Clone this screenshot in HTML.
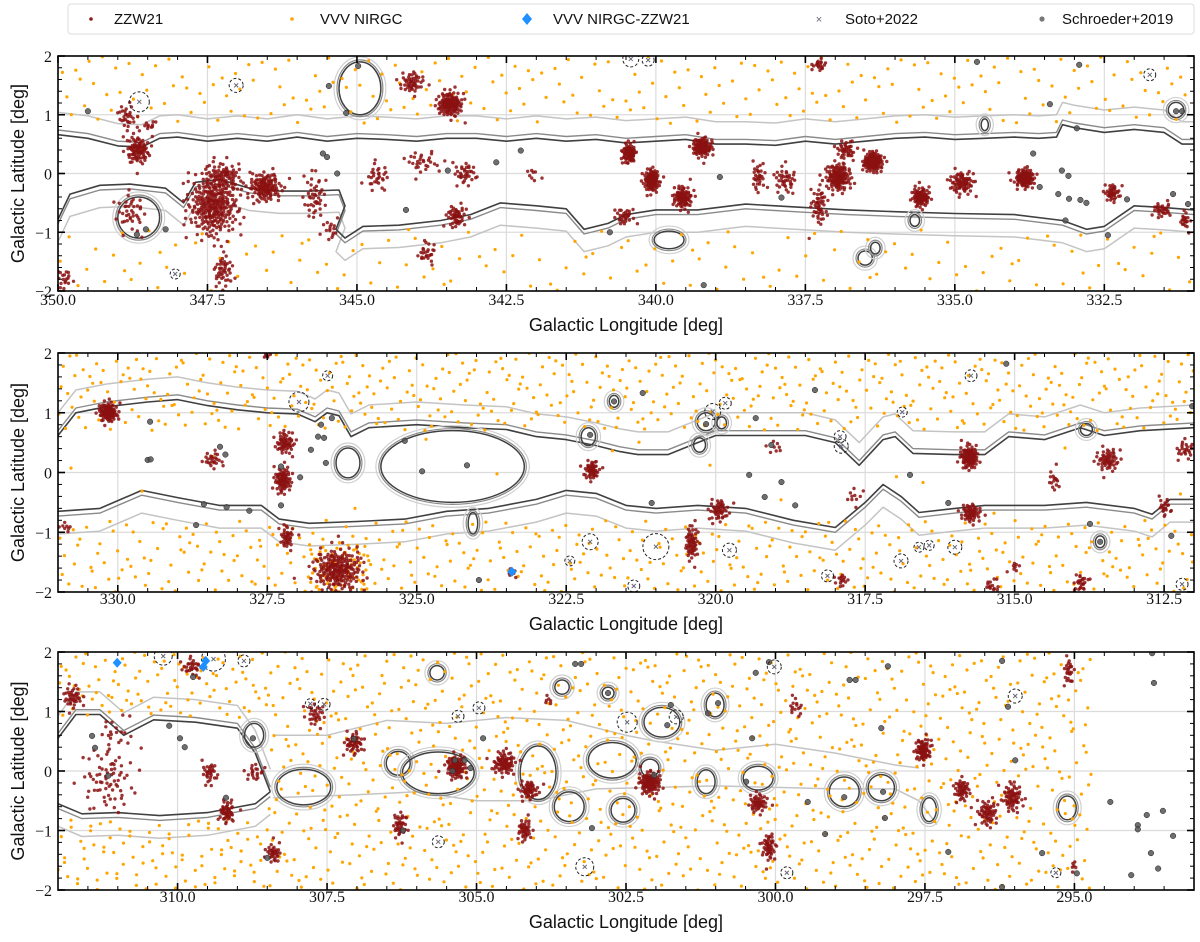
<!DOCTYPE html>
<html><head><meta charset="utf-8">
<style>
html,body{margin:0;padding:0;background:#fff;}
svg{display:block;}
.tick{font-family:"Liberation Serif",serif;font-size:16px;fill:#111;}
.ttl{font-family:"Liberation Sans",sans-serif;font-size:18px;fill:#111;}
.leg{font-family:"Liberation Sans",sans-serif;font-size:15px;fill:#111;}
</style></head>
<body>
<svg id="fig" width="1200" height="942" viewBox="0 0 1200 942" xmlns="http://www.w3.org/2000/svg">
<g>
<rect x="68" y="4" width="1126" height="30" rx="3" fill="#fff" stroke="#ddd"/>
<g><circle cx="91" cy="19" r="1.8" fill="#8b1a1a"/><text class="leg" x="114" y="24">ZZW21</text></g>
<g><circle cx="292" cy="19" r="1.8" fill="#ffa500"/><text class="leg" x="320" y="24">VVV NIRGC</text></g>
<g><path d="M527,13 L532,19 L527,25 L522,19Z" fill="#1e90ff"/><text class="leg" x="553" y="24">VVV NIRGC-ZZW21</text></g>
<g><text x="819" y="23" text-anchor="middle" font-family="Liberation Sans,sans-serif" font-size="11" fill="#667">×</text><text class="leg" x="845" y="24">Soto+2022</text></g>
<g><circle cx="1042" cy="19" r="2.6" fill="#555" fill-opacity="0.8"/><text class="leg" x="1062" y="24">Schroeder+2019</text></g>
</g>
</svg>
<script>
// ---------- data ----------
const panelLonMax = [350, 331, 312];
const panelLonMin = [331, 312, 293];
const xTickLabels = [
  ["350.0","347.5","345.0","342.5","340.0","337.5","335.0","332.5"],
  ["330.0","327.5","325.0","322.5","320.0","317.5","315.0","312.5"],
  ["310.0","307.5","305.0","302.5","300.0","297.5","295.0"]
];
const yTickLabels = ["2","1","0","\u22122","\u22121"];
const yTickValues = [2,1,0,-2,-1];

// ZZW21 clusters: [lon, lat, count, sigmaLon, sigmaLat]
const zzwP1 = [[348.85,0.96,30,.1,.15],[348.66,0.4,90,.12,.15],[348.46,0.82,10,.08,.04],[348.78,-0.67,40,.15,.22],
 [347.4,-0.55,300,.26,.32],[347.24,-0.04,80,.2,.15],[346.54,-0.23,130,.17,.15],[345.7,-0.4,45,.12,.28],[347.24,-1.65,45,.1,.18],
 [345.43,-0.95,15,.08,.12],[344.66,-0.06,30,.12,.15],[344.08,1.55,50,.12,.12],[343.9,0.2,30,.2,.12],[343.44,1.18,130,.13,.13],
 [343.19,0.0,35,.12,.12],[343.34,-0.73,50,.1,.12],[343.83,-1.35,25,.1,.12],[349.9,-1.8,20,.1,.12],[342.05,0.0,8,.08,.08],
 [340.45,0.34,90,.07,.1],[339.23,0.45,110,.1,.1],[340.07,-0.12,110,.08,.12],[339.55,-0.41,90,.1,.12],[340.52,-0.73,30,.1,.1],
 [337.27,1.85,20,.08,.06],[338.29,-0.06,30,.07,.15],[337.84,-0.11,40,.12,.15],[336.95,-0.06,140,.13,.15],[336.82,0.4,40,.1,.1],
 [336.37,0.2,140,.1,.1],[337.27,-0.55,50,.08,.22],[335.57,-0.4,90,.09,.1],[334.88,-0.16,80,.13,.12],[333.83,-0.08,110,.1,.1],
 [332.37,-0.33,40,.08,.1],[331.53,-0.62,30,.1,.08],[331.15,-0.79,20,.05,.1]];
const zzwP2 = [[330.16,1.01,100,.1,.1],[327.2,0.49,60,.1,.12],[327.24,-0.13,80,.09,.13],[327.17,-1.08,40,.07,.12],[328.41,0.21,25,.1,.1],
 [326.32,-1.63,220,.25,.22],[322.07,0.04,50,.08,.1],[323.41,-1.68,8,.05,.05],[330.88,-0.92,8,.08,.05],[327.5,1.95,6,.05,.03],
 [319.94,-0.63,50,.1,.12],[320.4,-1.18,60,.07,.18],[315.76,0.26,110,.09,.12],[315.73,-0.68,60,.1,.1],[313.44,0.21,60,.12,.12],
 [314.34,-0.13,15,.06,.12],[313.89,-1.85,25,.08,.1],[315.38,-1.9,15,.08,.08],[317.89,-1.8,15,.07,.08],[312.15,0.38,25,.1,.1],
 [312.48,-0.58,20,.06,.12],[317.7,-0.41,10,.1,.1],[318.99,0.43,8,.1,.08],[315.0,-1.58,8,.06,.06]];
const zzwP3 = [[311.75,1.24,40,.1,.12],[311.16,-0.15,70,.28,.35],[311.04,0.64,20,.2,.2],[309.76,1.75,30,.1,.1],[309.46,-0.03,30,.08,.12],
 [308.72,-0.03,20,.1,.1],[309.17,-0.69,50,.08,.12],[307.7,0.94,30,.1,.12],[307.05,0.47,50,.1,.12],[308.4,-1.38,35,.08,.1],
 [306.28,-0.91,40,.07,.14],[305.34,0.07,100,.1,.12],[304.54,0.13,80,.12,.12],[304.12,-0.32,50,.1,.1],[304.19,-0.99,40,.07,.12],
 [303.8,1.19,6,.05,.05],[302.1,-0.2,110,.11,.12],[300.29,-0.54,50,.1,.1],[300.11,-1.28,50,.07,.15],[299.66,1.08,15,.08,.1],
 [297.53,0.35,75,.08,.12],[296.88,-0.32,50,.08,.12],[296.45,-0.71,60,.1,.14],[296.04,-0.44,70,.1,.15],[295.09,1.67,25,.05,.15],
 [295.02,-1.6,6,.04,.06]];

// VVV NIRGC field regions: [lonA, lonB, latA, latB, count]
const vvvP1 = [[350,331,0.85,2,230],[350,331,-2,-0.95,140]];
const vvvP2 = [[331,312,0.7,2,500],[331,312,-2,-0.8,400],[331,312,-0.7,0.6,15],[326.8,325.8,-2,-1.2,60]];
const vvvP3 = [[312,308.5,0.9,2,90],[312,308.5,-2,-0.8,90],[308.5,294.7,-2,2,950]];

// Schroeder+2019 points (lon, lat)
const schP1 = [[349.5,1.06],[348.68,-1.04],[348.53,-0.95],[348.2,-0.95],[345.47,1.49],[345.18,1.03],[344.98,1.83],[345.57,0.34],[345.5,0.28],[345.33,0.0],
 [344.18,-0.62],[343.48,0.05],[342.67,0.19],[342.26,0.39],[340.77,-1.0],[337.9,-0.41],[338.93,-0.06],[334.63,1.9],[333.41,1.18],[332.96,0.77],
 [333.69,0.34],[333.21,0.05],[333.1,-0.04],[333.58,-0.23],[333.27,-0.35],[333.09,-0.43],[332.9,-0.45],[332.8,-0.5],[332.12,-0.44],[331.35,-0.35],
 [331.1,-0.52],[331.3,1.06],[331.2,1.06],[332.92,1.85],[339.2,-1.9],[333.15,-0.8],[332.44,-1.05]];
const schP2 = [[329.46,0.85],[329.5,0.21],[329.45,0.22],[328.29,0.43],[328.2,0.3],[326.65,0.6],[326.55,0.58],[326.77,0.38],[326.52,0.16],[326.42,0.91],
 [326.6,0.8],[325.2,0.53],[324.91,0.02],[324.16,0.12],[328.56,-0.53],[328.18,-0.58],[327.8,-0.64],[327.27,-0.55],[327.27,0.1],[326.95,-0.08],
 [328.69,-0.88],[323.96,-1.8],[322.1,0.63],[321.22,1.33],[321.7,1.19],[320.16,0.81],[319.33,0.91],[319.07,0.46],[319.44,-0.04],[318.9,-0.16],
 [319.18,-0.41],[321.07,-0.51],[318.67,-0.55],[316.75,-0.04],[316.11,-0.51],[315.14,1.82],[313.74,-0.86],[313.57,-1.16],[312.38,-1.06],[312.03,1.11],[318.34,1.38]];
const schP3 = [[311.43,0.59],[311.38,0.39],[311.16,-0.08],[310.14,0.76],[309.96,0.55],[309.88,0.4],[309.19,-0.45],[308.74,0.55],[309.74,1.58],[307.05,0.54],
 [304.89,0.55],[305.36,0.18],[305.2,0.18],[305.1,0.05],[305.4,0.0],[303.07,-0.96],[303.35,1.8],[303.25,1.8],[306.23,-1.0],[308.5,-1.46],
 [302.8,1.31],[301.75,1.11],[301.81,0.77],[301.13,0.97],[300.96,1.14],[302.03,-0.07],[300.49,-0.18],[300.39,0.55],[300.33,1.65],[300.11,1.83],
 [298.76,1.53],[298.66,1.53],[298.12,1.76],[298.23,0.72],[298.85,-0.44],[298.2,-0.35],[299.46,-0.52],[298.17,-0.79],[299.17,-1.06],[297.11,-1.36],
 [296.21,1.85],[296.11,1.08],[295.99,0.18],[295.54,-1.38],[294.96,-1.72],[296.21,-1.95],[293.67,1.48],[293.7,1.98],[294.4,-0.52],[293.52,-0.67],
 [293.79,-0.74],[293.94,-0.91],[293.94,-0.98],[293.35,-1.09],[293.72,-1.38],[294.05,-1.75],[293.6,-1.64]];

// Soto+2022: [lon, lat, circleRadiusPx]
const sotoP1 = [[348.64,1.22,10],[347.02,1.5,7],[348.04,-1.71,5],[340.42,1.95,8],[340.13,1.93,6],[331.74,1.68,6]];
const sotoP2 = [[326.97,1.18,10],[326.49,1.62,5],[322.1,-1.16,8],[322.44,-1.48,5],[321.0,-1.24,13],[320.05,1.02,8],[319.84,1.16,6],[319.77,-1.3,7],
 [317.92,0.6,6],[317.9,0.44,7],[316.88,1.01,5],[315.73,1.62,6],[316.6,-1.25,5],[316.43,-1.22,5],[316.0,-1.25,7],[316.9,-1.48,7],[318.13,-1.73,6],[321.37,-1.9,6],[312.2,-1.87,6]];
const sotoP3 = [[310.24,1.93,9],[309.4,1.88,12],[308.89,1.85,6],[307.78,1.13,5],[307.55,1.12,6],[305.31,0.92,6],[304.96,1.06,6],[305.64,-1.19,6],[303.19,-1.61,9],
 [302.48,0.82,10],[301.66,0.91,7],[300.02,1.75,7],[299.81,-1.71,6],[295.99,1.26,7],[295.31,-1.71,5]];

// VVV NIRGC-ZZW21 matches
const matchP2 = [[323.41,-1.66]];
const matchP3 = [[311.01,1.82],[309.57,1.75],[309.53,1.85]];

// Extinction contours
const upperP1 = [[350,0.66],[349.5,0.6],[349,0.47],[348.6,0.45],[348.3,0.6],[348,0.62],[347.5,0.55],[347,0.6],[346.5,0.55],[346,0.62],[345.5,0.55],[345,0.6],[344.5,0.58],[344,0.55],[343.5,0.6],[343,0.6],[342.5,0.55],[342,0.6],[341.5,0.55],[341,0.58],[340.5,0.52],[340,0.55],[339.5,0.58],[339,0.5],[338.5,0.5],[338,0.48],[337.5,0.55],[337,0.5],[336.5,0.55],[336,0.6],[335.5,0.62],[335,0.58],[334.5,0.6],[334,0.62],[333.6,0.6],[333.3,0.62],[333.2,0.83],[333,0.78],[332.5,0.7],[332,0.75],[331.5,0.7],[331.2,0.5],[331,0.5]];
const lowerP1 = [[350,-0.78],[349.8,-0.35],[349.3,-0.2],[348.8,-0.18],[348.2,-0.25],[347.9,-0.5],[347.7,-0.15],[347.3,-0.1],[346.8,-0.25],[346.3,-0.3],[345.8,-0.3],[345.3,-0.28],[345.2,-0.55],[345.35,-0.95],[345.2,-1.1],[344.9,-0.9],[344.3,-0.88],[343.6,-0.8],[343.1,-0.7],[342.6,-0.5],[342,-0.55],[341.5,-0.6],[341.2,-0.95],[340.8,-0.85],[340.5,-0.7],[340,-0.62],[339.3,-0.62],[338.5,-0.52],[337.5,-0.58],[336.8,-0.62],[336,-0.65],[335,-0.68],[334,-0.7],[333.2,-0.8],[332.8,-0.95],[332.5,-0.9],[332,-0.55],[331.5,-0.58],[331,-0.62]];
const upperP2 = [[331,0.62],[330.7,1.0],[330.2,1.1],[329.5,1.18],[329,1.22],[328.5,1.12],[328,1.05],[327.5,1.0],[327,0.98],[326.7,0.85],[326.5,1.0],[326.3,0.95],[326.1,0.6],[325.8,0.75],[325,0.8],[324.2,0.75],[323.5,0.72],[323,0.6],[322.5,0.55],[322,0.45],[321.6,0.35],[321.3,0.3],[320.8,0.3],[320.3,0.5],[320,0.62],[319.3,0.62],[318.5,0.62],[318,0.5],[317.6,0.12],[317.2,0.55],[317,0.6],[316.7,0.32],[316,0.3],[315.5,0.3],[315.1,0.6],[314.5,0.55],[313.9,0.75],[313.5,0.62],[312.9,0.7],[312,0.75]];
const lowerP2 = [[331,-0.65],[330.3,-0.6],[329.6,-0.3],[329,-0.42],[328.3,-0.55],[327.6,-0.55],[327.3,-0.78],[326.8,-0.85],[326,-0.82],[325.2,-0.78],[324.5,-0.65],[323.8,-0.6],[323,-0.45],[322.5,-0.3],[322,-0.35],[321.5,-0.55],[321,-0.6],[320.3,-0.55],[319.5,-0.6],[318.7,-0.8],[318,-0.92],[317.5,-0.5],[317.2,-0.2],[316.9,-0.4],[316.6,-0.67],[316,-0.6],[315.5,-0.55],[314.5,-0.55],[313.8,-0.5],[313,-0.6],[312.7,-0.7],[312.4,-0.45],[312,-0.45]];
const upperP3 = [[312,0.55],[311.7,0.95],[311.3,0.95],[310.9,0.6],[310.4,0.86],[309.7,0.82],[309,0.72],[308.7,0.3],[308.45,-0.35]];
const lowerP3 = [[312,-0.55],[311.6,-0.72],[311,-0.7],[310.3,-0.75],[309.5,-0.7],[308.7,-0.55],[308.45,-0.35]];
const lightUpperP3 = [[308.4,0.6],[307.5,0.6],[306.5,0.85],[305.5,0.8],[304.5,0.9],[303.5,0.85],[302.5,0.6],[302,0.5],[301,0.35],[300,0.45],[299,0.3],[298,0.1],[297.6,0.05]];
const lightLowerP3 = [[308.4,-0.45],[307,-0.4],[306,-0.35],[305,-0.5],[304,-0.5],[303,-0.3],[301,-0.25],[299,-0.3],[298,-0.3],[297.6,-0.5],[297.3,-0.9]];
// closed contour loops: [lon, lat, rLon, rLat]
const loopsP1 = [[348.65,-0.75,0.35,0.35],[344.95,1.45,0.35,0.45],[339.78,-1.13,0.25,0.15],[336.5,-1.44,0.12,0.12],[336.33,-1.27,0.08,0.1],[331.3,1.08,0.13,0.13],[334.5,0.83,0.06,0.1],[335.67,-0.8,0.08,0.1]];
const loopsP2 = [[324.4,0.1,1.2,0.6],[326.15,0.16,0.2,0.25],[324.06,-0.85,0.08,0.18],[322.13,0.6,0.12,0.15],[321.7,1.19,0.08,0.1],[320.16,0.85,0.15,0.15],[319.9,0.83,0.08,0.1],[320.27,0.46,0.1,0.12],[313.8,0.72,0.1,0.1],[313.57,-1.16,0.08,0.1]];
const loopsP3 = [[308.72,0.6,0.16,0.2],[307.89,-0.27,0.45,0.3],[306.31,0.13,0.2,0.2],[305.64,-0.03,0.6,0.35],[303.97,-0.03,0.3,0.45],[303.45,-0.6,0.25,0.25],[305.66,1.65,0.12,0.12],[303.57,1.41,0.12,0.12],
 [302.73,0.18,0.4,0.3],[302.1,0.05,0.15,0.15],[301.9,0.82,0.3,0.25],[302.55,-0.66,0.2,0.2],[301.16,-0.18,0.15,0.2],[301.01,1.11,0.15,0.2],[300.29,-0.12,0.25,0.2],[298.85,-0.35,0.25,0.25],[298.23,-0.28,0.22,0.22],[297.43,-0.65,0.12,0.2],[295.12,-0.62,0.15,0.2],[302.8,1.31,0.1,0.1]];

// ---------- layout ----------
const NS = "http://www.w3.org/2000/svg";
const svg = document.getElementById("fig");
const LEFT = 58, RIGHT = 1194;
const TOPS = [56, 353, 652], BOTTOMS = [291, 592, 890];
const TICKLABEL_Y = [305, 604, 902];
const TITLE_Y = [331, 630, 928];
const zzwAll = [zzwP1, zzwP2, zzwP3], vvvAll = [vvvP1, vvvP2, vvvP3], schAll = [schP1, schP2, schP3];
const sotoAll = [sotoP1, sotoP2, sotoP3], matchAll = [[], matchP2, matchP3];
const upperAll = [upperP1, upperP2, upperP3], lowerAll = [lowerP1, lowerP2, lowerP3], loopsAll = [loopsP1, loopsP2, loopsP3];

function mk(tag, attrs, parent) {
  const e = document.createElementNS(NS, tag);
  for (const k in attrs) e.setAttribute(k, attrs[k]);
  parent.appendChild(e);
  return e;
}
function halton(i, b) { let f = 1, r = 0; while (i > 0) { f /= b; r += f * (i % b); i = Math.floor(i / b); } return r; }

for (let p = 0; p < 3; p++) {
  const top = TOPS[p], bot = BOTTOMS[p];
  const lonMax = panelLonMax[p], lonMin = panelLonMin[p];
  const xs = l => LEFT + (lonMax - l) / (lonMax - lonMin) * (RIGHT - LEFT);
  const ys = b => top + (2 - b) / 4 * (bot - top);
  const g = mk("g", {}, svg);
  
  
  const clipId = "clip" + p;
  const cp = mk("clipPath", {id: clipId}, g);
  mk("rect", {x: LEFT, y: top, width: RIGHT - LEFT, height: bot - top}, cp);

  const grid = mk("g", {stroke: "#dcdcdc", "stroke-width": 1.2}, g);
  
  
  for (let i = 0; i < xTickLabels[p].length; i++) {
    const v = parseFloat(xTickLabels[p][i]); const x = xs(v);
    mk("line", {x1: x, x2: x, y1: top, y2: bot}, grid);
  }
  for (const v of [-1, 0, 1]) mk("line", {x1: LEFT, x2: RIGHT, y1: ys(v), y2: ys(v)}, grid);

  const data = mk("g", {"clip-path": "url(#" + clipId + ")"}, g);
  
  

  const cont = mk("g", {fill: "none", "stroke-linejoin": "round"}, data);
  
  
  const pathOf = (arr, off) => arr.map((q, i) => (i ? "L" : "M") + xs(q[0]).toFixed(1) + "," + ys(q[1] + off).toFixed(1)).join("");
  const levels = [[0.38, "#c4c4c4", 1.5], [0.08, "#8a8a8a", 1.4], [0, "#404040", 1.6]];
  for (const [off, col, w] of levels) {
    const u = mk("path", {d: pathOf(upperAll[p], off), stroke: col, "stroke-width": w}, cont);
    
    
    const lo = mk("path", {d: pathOf(lowerAll[p], -off), stroke: col, "stroke-width": w}, cont);
    
    
  }
  if (p === 2) {
    for (const arr of [lightUpperP3, lightLowerP3]) {
      const l = mk("path", {d: pathOf(arr, 0), stroke: "#c4c4c4", "stroke-width": 1.5}, cont);
      
      
    }
  }
  for (const L of loopsAll[p]) {
    const cx = xs(L[0]), cy = ys(L[1]);
    const rx = Math.abs(xs(L[0] + L[2]) - cx), ry = Math.abs(ys(L[1] + L[3]) - cy);
    const r1 = mk("ellipse", {cx: cx, cy: cy, rx: rx + 5, ry: ry + 5, stroke: "#d0d0d0", "stroke-width": 1.2}, cont);
    
    
    const r2 = mk("ellipse", {cx: cx, cy: cy, rx: rx + 2, ry: ry + 2, stroke: "#8a8a8a", "stroke-width": 1.2}, cont);
    
    
    const r3 = mk("ellipse", {cx: cx, cy: cy, rx: rx, ry: ry, stroke: "#404040", "stroke-width": 1.5}, cont);
    
    
  }

  const vg = mk("g", {fill: "#ffa500"}, data);
  
  
  let hi = 1 + p * 3000;
  for (const R of vvvAll[p]) {
    for (let k = 0; k < R[4]; k++, hi++) {
      const l = R[0] + (R[1] - R[0]) * halton(hi, 2);
      const b = R[2] + (R[3] - R[2]) * halton(hi, 3);
      const c = mk("circle", {cx: xs(l).toFixed(1), cy: ys(b).toFixed(1), r: 1.6}, vg);
      
      
    }
  }

  const zg = mk("g", {fill: "#8b1010", "fill-opacity": 0.85}, data);
  
  
  let hj = 11;
  for (const C of zzwAll[p]) {
    const cl = mk("g", {}, zg);
    
    
    for (let k = 0; k < C[2]; k++, hj++) {
      const u1 = Math.max(halton(hj, 2), 1e-4), u2 = halton(hj, 3);
      const rr = Math.sqrt(-2 * Math.log(u1)) * 0.8;
      const l = C[0] + C[3] * rr * Math.cos(2 * Math.PI * u2);
      const b = C[1] + C[4] * rr * Math.sin(2 * Math.PI * u2);
      const c = mk("circle", {cx: xs(l).toFixed(1), cy: ys(b).toFixed(1), r: 1.7}, cl);
      
      
    }
  }

  const sg = mk("g", {fill: "#555", "fill-opacity": 0.85, stroke: "#222", "stroke-width": 0.5}, data);
  
  
  for (const s of schAll[p]) {
    const c = mk("circle", {cx: xs(s[0]), cy: ys(s[1]), r: 2.8}, sg);
    
    
  }

  const tg = mk("g", {}, data);
  
  
  for (const s of sotoAll[p]) {
    const x = xs(s[0]), y = ys(s[1]);
    const ring = mk("circle", {cx: x, cy: y, r: s[2], fill: "none", stroke: "#222", "stroke-width": 1, "stroke-dasharray": "3,2"}, tg);
    
    
    const cr = mk("path", {d: `M${x-2},${y-2}L${x+2},${y+2}M${x-2},${y+2}L${x+2},${y-2}`, stroke: "#667", "stroke-width": 1}, tg);
    
    
  }

  for (const m of matchAll[p]) {
    const x = xs(m[0]), y = ys(m[1]);
    const d = mk("path", {d: `M${x},${y-5}L${x+4.5},${y}L${x},${y+5}L${x-4.5},${y}Z`, fill: "#1e90ff"}, data);
    
    
  }

  const ax = mk("g", {stroke: "#000"}, g);
  
  
  const fr = mk("rect", {x: LEFT, y: top, width: RIGHT - LEFT, height: bot - top, fill: "none", "stroke-width": 1.6}, ax);
  
  
  for (let v = Math.ceil(lonMin * 2) / 2; v <= lonMax + 1e-6; v += 0.5) {
    const major = Math.abs(v / 2.5 - Math.round(v / 2.5)) < 1e-6;
    const x = xs(v), len = major ? 7 : 4;
    mk("line", {x1: x, x2: x, y1: bot, y2: bot - len, "stroke-width": major ? 1.6 : 1}, ax);
    mk("line", {x1: x, x2: x, y1: top, y2: top + len, "stroke-width": major ? 1.6 : 1}, ax);
  }
  for (let v = -2; v <= 2.0001; v += 0.2) {
    const major = Math.abs(v - Math.round(v)) < 1e-6;
    const y = ys(v), len = major ? 7 : 4;
    mk("line", {x1: LEFT, x2: LEFT + len, y1: y, y2: y, "stroke-width": major ? 1.6 : 1}, ax);
    mk("line", {x1: RIGHT, x2: RIGHT - len, y1: y, y2: y, "stroke-width": major ? 1.6 : 1}, ax);
  }
  for (let i = 0; i < xTickLabels[p].length; i++) {
    const t = mk("text", {x: xs(parseFloat(xTickLabels[p][i])), y: TICKLABEL_Y[p], "text-anchor": "middle", class: "tick"}, g);
    t.textContent = xTickLabels[p][i];
    
    
  }
  for (let i = 0; i < yTickLabels.length; i++) {
    const t = mk("text", {x: 52, y: ys(yTickValues[i]) + 6, "text-anchor": "end", class: "tick"}, g);
    t.textContent = yTickLabels[i];
    
    
  }
  const xt = mk("text", {x: (LEFT + RIGHT) / 2, y: TITLE_Y[p], "text-anchor": "middle", class: "ttl"}, g);
  xt.textContent = "Galactic Longitude [deg]";
  
  
  const cy = (top + bot) / 2;
  const yt = mk("text", {x: 0, y: 0, "text-anchor": "middle", class: "ttl", transform: `translate(24,${cy}) rotate(-90)`}, g);
  yt.textContent = "Galactic Latitude [deg]";
  
  
}
</script>
</body></html>
